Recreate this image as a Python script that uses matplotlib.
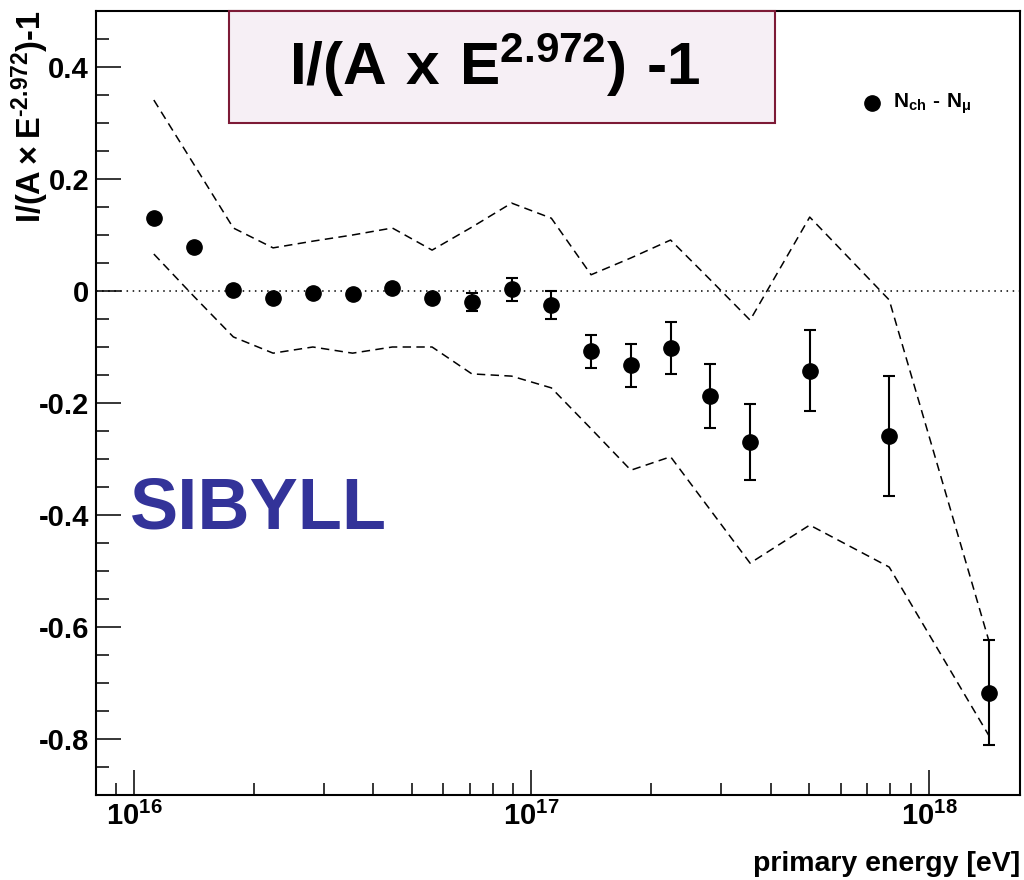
import matplotlib
matplotlib.use("Agg")
import matplotlib.pyplot as plt
from matplotlib.patches import Rectangle
from matplotlib.ticker import FixedLocator, LogLocator, MultipleLocator, NullFormatter
import numpy as np

# log10 of primary energy [eV] for each bin
log_energy = [16.05, 16.15, 16.25, 16.35, 16.45, 16.55, 16.65, 16.75, 16.85, 16.95,
              17.05, 17.15, 17.25, 17.35, 17.45, 17.55, 17.70, 17.90, 18.15]
# I/(A x E^2.972) - 1 for Nch - Nmu
ratio = [0.130, 0.079, 0.002, -0.012, -0.004, -0.006, 0.006, -0.013, -0.019, 0.003,
         -0.025, -0.108, -0.133, -0.102, -0.1875, -0.270, -0.142, -0.259, -0.717]
ratio_err = [0.004, 0.004, 0.004, 0.005, 0.005, 0.005, 0.006, 0.007, 0.016, 0.020,
             0.025, 0.030, 0.038, 0.047, 0.057, 0.068, 0.072, 0.107, 0.093]
# systematic band
band_upper = [0.341, 0.227, 0.1125, 0.077, 0.089, 0.100, 0.1125, 0.073, 0.114, 0.157,
              0.130, 0.029, 0.059, 0.091, 0.020, -0.052, 0.132, -0.016, -0.623]
band_lower = [0.066, -0.009, -0.082, -0.111, -0.100, -0.111, -0.100, -0.100, -0.148, -0.152,
              -0.173, -0.246, -0.320, -0.296, -0.391, -0.486, -0.418, -0.493, -0.793]

FONT = ["Liberation Sans", "DejaVu Sans"]
HYPHEN = "\u2010"

energy = 10.0 ** np.asarray(log_energy)

fig = plt.figure(figsize=(10.24, 8.8), dpi=100)
ax = fig.add_axes([96 / 1024, 85 / 880, 924 / 1024, 784 / 880])

ax.axhline(0.0, color="black", lw=1.1, ls=(0, (1, 3)), zorder=1)
ax.plot(energy, band_upper, color="black", lw=1.1, ls=(0, (5.5, 3.5)), zorder=2)
ax.plot(energy, band_lower, color="black", lw=1.1, ls=(0, (5.5, 3.5)), zorder=2)
ax.errorbar(energy, ratio, yerr=ratio_err, fmt="o", color="black", ms=11,
            elinewidth=1.5, capsize=4, capthick=1.5, zorder=3)

ax.set_xscale("log")
ax.set_xlim(10 ** 15.9045, 10 ** 18.229)
ax.set_ylim(-0.9, 0.5)

ax.xaxis.set_major_locator(FixedLocator([1e16, 1e17, 1e18]))
ax.xaxis.set_minor_locator(LogLocator(base=10, subs=np.arange(2, 10)))
ax.xaxis.set_minor_formatter(NullFormatter())
ax.yaxis.set_minor_locator(MultipleLocator(0.05))
ax.set_yticks([0.4, 0.2, 0.0, -0.2, -0.4, -0.6, -0.8])
ax.set_yticklabels(["0.4", "0.2", "0", "-0.2", "-0.4", "-0.6", "-0.8"])
ax.set_xticklabels([r"$\mathdefault{10^{16}}$", r"$\mathdefault{10^{17}}$", r"$\mathdefault{10^{18}}$"])

ax.tick_params(which="both", direction="in", top=False, right=False, width=1.1, pad=5)
ax.tick_params(which="major", length=18)
ax.tick_params(which="minor", length=9)
for lab in ax.get_xticklabels() + ax.get_yticklabels():
    lab.set_family(FONT)
    lab.set_weight("bold")
    lab.set_fontsize(21)
for sp in ax.spines.values():
    sp.set_linewidth(1.5)

# title box
ax.add_patch(Rectangle((133 / 924, 672 / 784), 546 / 924, 112 / 784, transform=ax.transAxes,
                       facecolor="#f6eff5", edgecolor="#7d1a36", lw=1.5, zorder=5, clip_on=False))
ax.text(193 / 924, 710 / 784, r"$\mathdefault{I/(A\ x\ E^{2.972})\ " + HYPHEN + "1}$",
        transform=ax.transAxes, family=FONT, weight="bold", fontsize=43.5,
        va="baseline", ha="left", zorder=6)

# legend
ax.plot([0.8398], [0.8827], "o", color="black", ms=11, transform=ax.transAxes, clip_on=False)
ax.text(0.8626, 0.877, r"$\mathdefault{N_{ch}\ " + HYPHEN + r"\ N_{μ}}$", transform=ax.transAxes,
        family=FONT, weight="bold", fontsize=15, va="baseline", ha="left")

ax.text(34 / 924, 267 / 784, "SIBYLL", transform=ax.transAxes, family=FONT, weight="bold",
        fontsize=52, color="#333399", va="baseline", ha="left")

fig.text(1020 / 1024, 9 / 880, "primary energy [eV]", family=FONT, weight="bold",
         fontsize=20.5, ha="right", va="baseline")
fig.text(30 / 1024, 1 - 11 / 880,
         r"$\mathdefault{I/(A \times E^{" + HYPHEN + r"2.972})" + HYPHEN + "1}$",
         family=FONT, weight="bold", fontsize=23.5, rotation=90, ha="center", va="top")

fig.savefig("out.png", dpi=100)
